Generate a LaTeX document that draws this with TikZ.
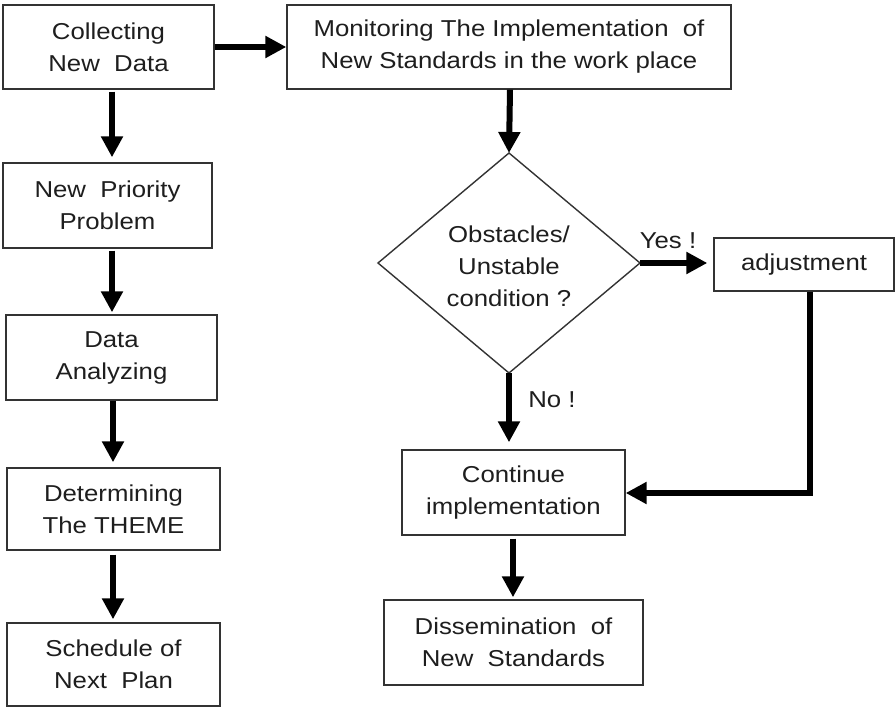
\documentclass[tikz,border=0pt]{standalone}
\usepackage{fontspec}
\setmainfont{Liberation Sans}[FakeStretch=1.12]
\usetikzlibrary{shapes.geometric,arrows.meta}
\definecolor{ink}{HTML}{1E1E1E}
\definecolor{frame}{HTML}{333333}
\tikzset{
  lbl/.style={text=ink, font={\fontsize{23pt}{32pt}\selectfont}},
  box/.style={lbl, draw=frame, line width=1.4pt, rectangle, align=center, inner sep=0pt},
  flow/.style={line width=6pt, -{Triangle[length=21pt,width=21pt]}}
}
\begin{document}
\begin{tikzpicture}[x=1pt,y=-1pt]
\useasboundingbox (0,0) rectangle (895,708);
\fill[white] (0,0) rectangle (895,708);

% left column
\node[box, minimum width=211pt, minimum height=84pt] (coll)  at (108.5,47)   {Collecting\\New~ Data};
\node[box, minimum width=209pt, minimum height=85pt] (prio)  at (107.5,205.5) {New~ Priority\\Problem};
\node[box, minimum width=211pt, minimum height=85pt] (anal)  at (111.5,357.5) {Data\\Analyzing};
\node[box, minimum width=213pt, minimum height=82pt] (theme) at (113.5,509)   {Determining\\The THEME};
\node[box, minimum width=213pt, minimum height=83pt] (sched) at (113.5,664.5) {Schedule of\\Next~ Plan};

% right column
\node[box, minimum width=444pt, minimum height=84pt] (mon) at (509,47)
  {Monitoring The Implementation~ of\\New Standards in the work place};
\node[diamond, draw=frame, line width=1.4pt, minimum width=262pt, minimum height=220pt,
      inner sep=0pt, outer sep=0pt] (dia) at (509,263) {};
\node[lbl, align=center] (diatext) at (509,266) {Obstacles/\\Unstable\\condition ?};
\node[box, minimum width=180pt, minimum height=53pt] (adj)  at (804,264.5)  {adjustment};
\node[box, minimum width=223pt, minimum height=85pt] (cont) at (513.5,492.5) {Continue\\implementation};
\node[box, minimum width=259pt, minimum height=85pt] (diss) at (513.5,642.5) {Dissemination~ of\\New~ Standards};

% helper columns for the vertical connectors
\coordinate (colA) at (112,0);
\coordinate (colB) at (113,0);
\coordinate (colC) at (510,0);
\coordinate (colD) at (513,0);
\coordinate (colE) at (810,0);
\coordinate (rowF) at (0,493);

% connectors
\draw[flow] (coll.east) -- (mon.west);
\draw[flow, shorten <=2pt, shorten >=5pt] (coll.south -| colA) -- (prio.north -| colA);
\draw[flow, shorten <=2pt, shorten >=2pt] (prio.south -| colA) -- (anal.north -| colA);
\draw[flow, shorten >=5pt] (anal.south -| colB) -- (theme.north -| colB);
\draw[flow, shorten <=4pt, shorten >=3pt] (theme.south -| colB) -- (sched.north -| colB);

\draw[flow] (mon.south -| colC) -- (dia.north);
\draw[flow, shorten >=6pt] (dia.east) -- (adj.west |- dia.east);
\draw[flow, shorten >=7pt] (dia.south) -- (cont.north -| dia.south);
\draw[flow, shorten <=3pt, shorten >=2pt] (cont.south -| colD) -- (diss.north -| colD);
\draw[flow] (adj.south -| colE) -- (colE |- rowF) -- (cont.east |- rowF);

% branch labels
\node[lbl] (yes) at (668,241) {Yes !};
\node[lbl] (no)  at (552,400) {No !};
\end{tikzpicture}
\end{document}
